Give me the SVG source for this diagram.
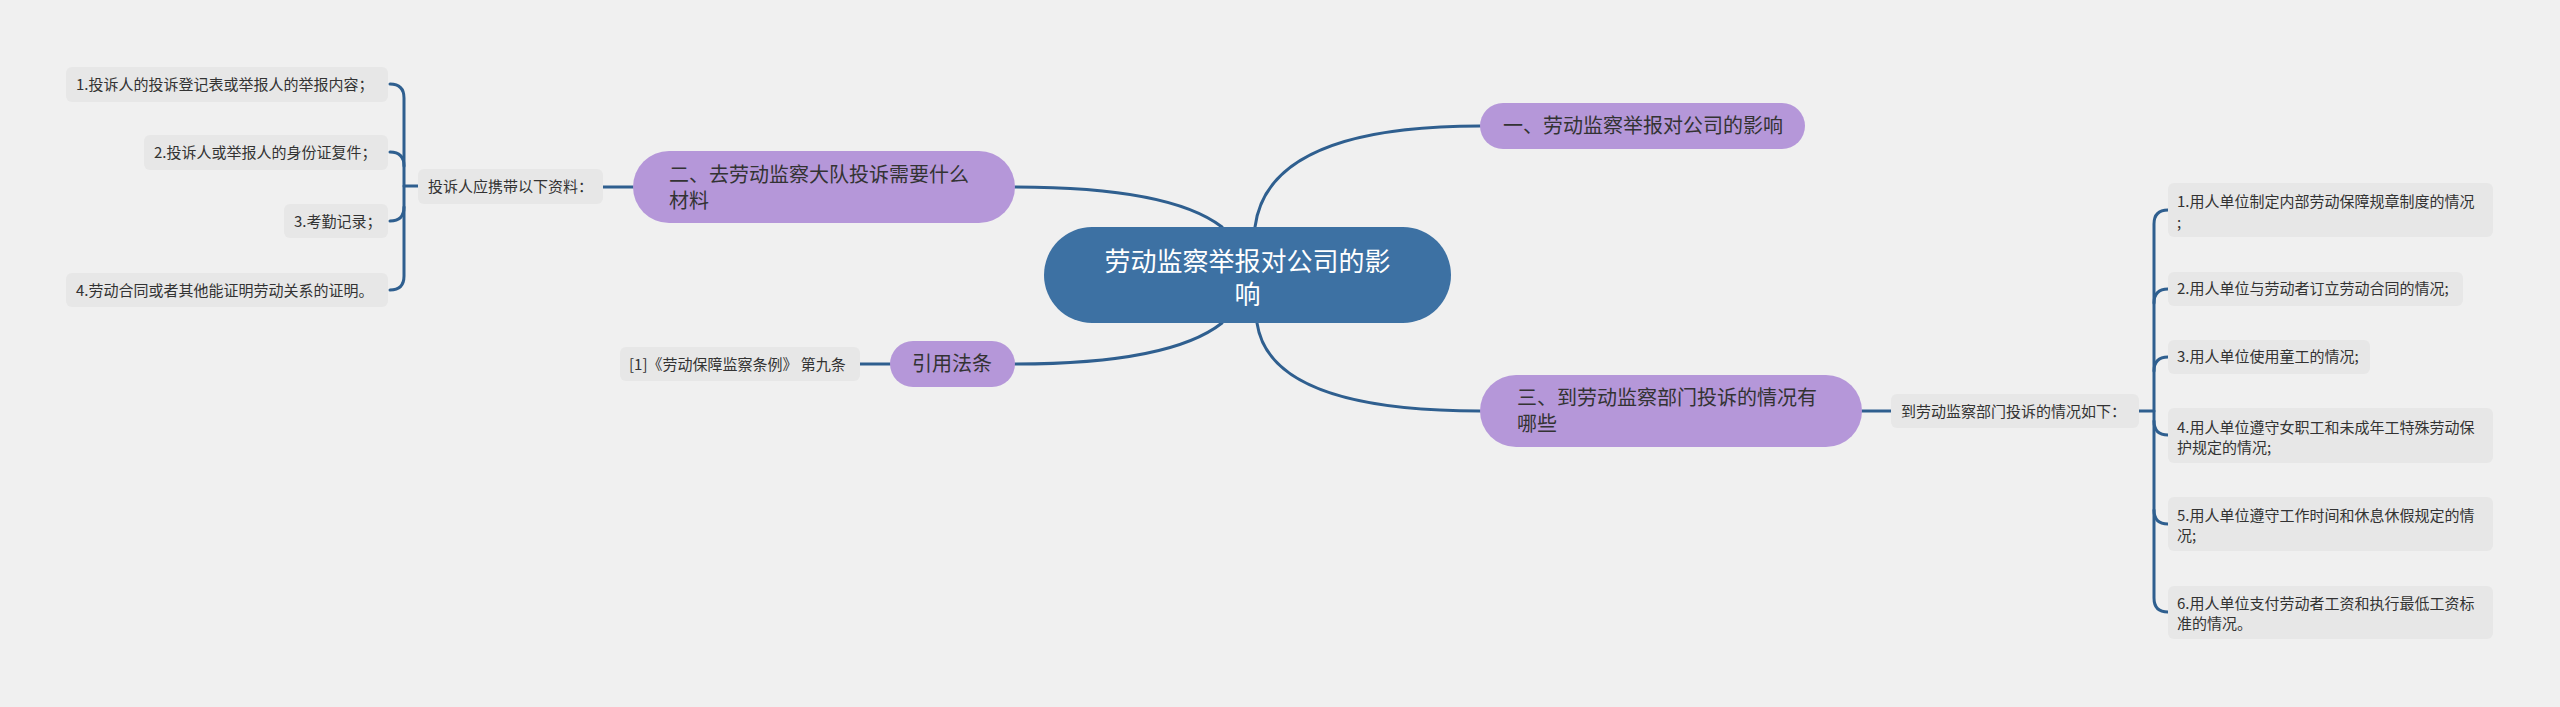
<svg xmlns="http://www.w3.org/2000/svg" width="2560" height="707" viewBox="0 0 2560 707">
<style>
text{font-family:"Noto Sans CJK SC","Microsoft YaHei",sans-serif;}
.leaf rect{fill:#e7e7e7;}
.leaf text{font-size:15px;fill:#333;}
.br rect{fill:#b597d9;}
.br text{font-size:20px;fill:#333;}
.conn path{fill:none;stroke:#2f5f8f;stroke-width:3;stroke-linecap:round;}
</style>
<rect width="2560" height="707" fill="#f0f0f0"/>
<g class="conn">
<path d="M1255 227 Q1268 126 1480 126"/>
<path d="M1222 227 Q1170 187 1015 187"/>
<path d="M1222 323 Q1170 364 1015 364"/>
<path d="M1257 323 Q1270 411 1480 411"/>
<path d="M633 187 L603 187"/>
<path d="M418 186 L404 186"/>
<path d="M390 84 Q404 84 404 98 L404 276 Q404 290 390 290"/>
<path d="M390 152 Q404 152 404 166"/>
<path d="M390 221 Q404 221 404 207"/>
<path d="M890 364 L860 364"/>
<path d="M1862 411 L1891 411"/>
<path d="M2139 411 L2154 411"/>
<path d="M2168 210 Q2154 210 2154 224 L2154 598 Q2154 612 2168 612"/>
<path d="M2168 289 Q2154 289 2154 303"/>
<path d="M2168 357 Q2154 357 2154 371"/>
<path d="M2168 435 Q2154 435 2154 421"/>
<path d="M2168 524 Q2154 524 2154 510"/>
</g>
<g id="center">
<rect x="1044" y="227" width="407" height="96" rx="48" fill="#3d71a3"/>
<text x="1247.5" y="271" font-size="26" fill="#fff" text-anchor="middle">劳动监察举报对公司的影</text>
<text x="1247.5" y="304" font-size="26" fill="#fff" text-anchor="middle">响</text>
</g>
<g id="b1" class="br">
<rect x="1480" y="103" width="325" height="46" rx="23"/>
<text x="1503" y="133">一、劳动监察举报对公司的影响</text>
</g>
<g id="b2" class="br">
<rect x="633" y="151" width="382" height="72" rx="36"/>
<text x="669" y="182">二、去劳动监察大队投诉需要什么</text>
<text x="669" y="208">材料</text>
</g>
<g id="b3" class="br">
<rect x="1480" y="375" width="382" height="72" rx="36"/>
<text x="1517" y="405">三、到劳动监察部门投诉的情况有</text>
<text x="1517" y="431">哪些</text>
</g>
<g id="b4" class="br">
<rect x="890" y="341" width="125" height="46" rx="23"/>
<text x="952" y="371" text-anchor="middle">引用法条</text>
</g>
<g id="l2mid" class="leaf">
<rect x="418" y="169" width="185" height="35" rx="6"/>
<text x="428" y="192">投诉人应携带以下资料：</text>
</g>
<g id="l2a" class="leaf">
<rect x="66" y="67" width="322" height="35" rx="6"/>
<text x="76" y="90">1.投诉人的投诉登记表或举报人的举报内容；</text>
</g>
<g id="l2b" class="leaf">
<rect x="144" y="135" width="244" height="35" rx="6"/>
<text x="154" y="158">2.投诉人或举报人的身份证复件；</text>
</g>
<g id="l2c" class="leaf">
<rect x="284" y="204" width="104" height="34" rx="6"/>
<text x="294" y="227">3.考勤记录；</text>
</g>
<g id="l2d" class="leaf">
<rect x="66" y="273" width="322" height="34" rx="6"/>
<text x="76" y="296">4.劳动合同或者其他能证明劳动关系的证明。</text>
</g>
<g id="l4" class="leaf">
<rect x="620" y="347" width="240" height="34" rx="6"/>
<text x="629" y="370">[1]《劳动保障监察条例》 第九条</text>
</g>
<g id="l3mid" class="leaf">
<rect x="1891" y="394" width="248" height="34" rx="6"/>
<text x="1901" y="416.5">到劳动监察部门投诉的情况如下：</text>
</g>
<g id="l3a" class="leaf">
<rect x="2168" y="183" width="325" height="54" rx="6"/>
<text x="2177" y="206.5">1.用人单位制定内部劳动保障规章制度的情况</text>
<text x="2177" y="228">;</text>
</g>
<g id="l3b" class="leaf">
<rect x="2168" y="272" width="295" height="34" rx="6"/>
<text x="2177" y="294">2.用人单位与劳动者订立劳动合同的情况;</text>
</g>
<g id="l3c" class="leaf">
<rect x="2168" y="340" width="202" height="34" rx="6"/>
<text x="2177" y="362">3.用人单位使用童工的情况;</text>
</g>
<g id="l3d" class="leaf">
<rect x="2168" y="408" width="325" height="55" rx="6"/>
<text x="2177" y="432.5">4.用人单位遵守女职工和未成年工特殊劳动保</text>
<text x="2177" y="452.5">护规定的情况;</text>
</g>
<g id="l3e" class="leaf">
<rect x="2168" y="497" width="325" height="54" rx="6"/>
<text x="2177" y="520.5">5.用人单位遵守工作时间和休息休假规定的情</text>
<text x="2177" y="540.5">况;</text>
</g>
<g id="l3f" class="leaf">
<rect x="2168" y="586" width="325" height="53" rx="6"/>
<text x="2177" y="608.5">6.用人单位支付劳动者工资和执行最低工资标</text>
<text x="2177" y="628.5">准的情况。</text>
</g>
</svg>
